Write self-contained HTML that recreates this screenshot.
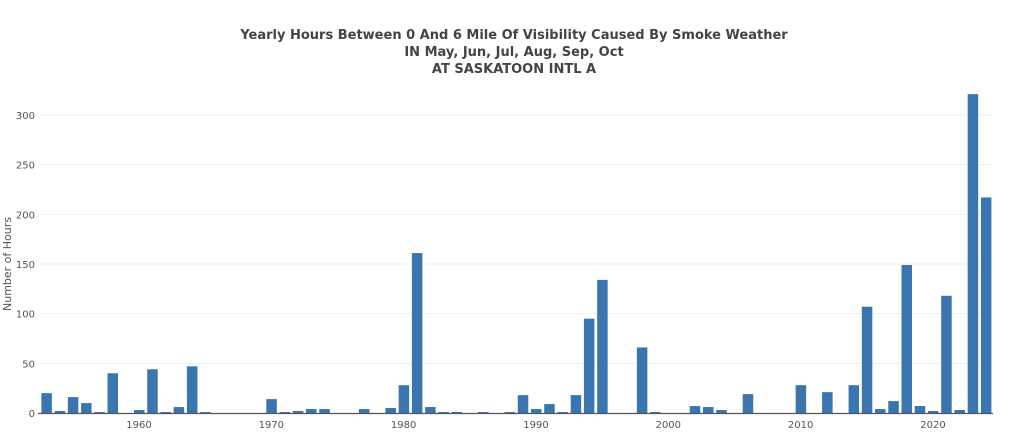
<!DOCTYPE html>
<html><head><meta charset="utf-8"><style>
body{margin:0;background:#fff;}
svg{display:block;font-family:"DejaVu Sans","Liberation Sans",sans-serif;}
</style></head><body>
<svg id="chart" width="1024" height="446" viewBox="0 0 1024 446">
<g font-weight="bold" font-size="13" fill="#444" text-anchor="middle">
<text x="514" y="39">Yearly Hours Between 0 And 6 Mile Of Visibility Caused By Smoke Weather</text>
<text x="514" y="56">IN May, Jun, Jul, Aug, Sep, Oct</text>
<text x="514" y="73">AT SASKATOON INTL A</text>
</g>
<text transform="translate(11,264) rotate(-90)" text-anchor="middle" font-size="11" fill="#555">Number of Hours</text>
<g id="grid"></g><g id="bars"></g><g id="axes"></g>
</svg>
<script>
const startYear = 1953;
const hours = [20,2,16,10,1,40,0,3,44,1,6,47,1,0,0,0,0,14,1,2,4,4,0,0,4,0,5,28,161,6,1,1,0,1,0,1,18,4,9,1,18,95,134,0,0,66,1,0,0,7,6,3,0,19,0,0,0,28,0,21,0,28,107,4,12,149,7,2,118,3,321,217];
const yTicks = [0,50,100,150,200,250,300];
const xTicks = [1960,1970,1980,1990,2000,2010,2020];
const NS="http://www.w3.org/2000/svg";
const x = yr => 139 + (yr-1960)*13.233;
const y = v => 413 - v*0.9933;
function mk(t,a,p){const e=document.createElementNS(NS,t);for(const k in a)e.setAttribute(k,a[k]);p.appendChild(e);return e;}
const grid=document.getElementById('grid'), bars=document.getElementById('bars'), axes=document.getElementById('axes');
yTicks.forEach(v=>{
  if(v>0){const l=mk('line',{x1:40,x2:993,y1:y(v),y2:y(v),stroke:'#eee','stroke-width':1},grid);
  
  }
  const t=mk('text',{x:35,y:y(v)+4,'text-anchor':'end','font-size':10,fill:'#555'},axes);
  t.textContent=v;
  
  
});
hours.forEach((v,i)=>{
  const yr=startYear+i;
  const r=mk('rect',{x:x(yr)-5,y:y(v),width:10.5,height:Math.max(0,413-y(v)),fill:'#3a75b0'},bars);
  
  
});
const ax=mk('line',{x1:38,x2:993,y1:413.5,y2:413.5,stroke:'#555','stroke-width':1.3},axes);


xTicks.forEach(yr=>{
  const t=mk('text',{x:x(yr),y:428,'text-anchor':'middle','font-size':10,fill:'#555'},axes);
  t.textContent=yr;
  
  
});
</script>
</body></html>
